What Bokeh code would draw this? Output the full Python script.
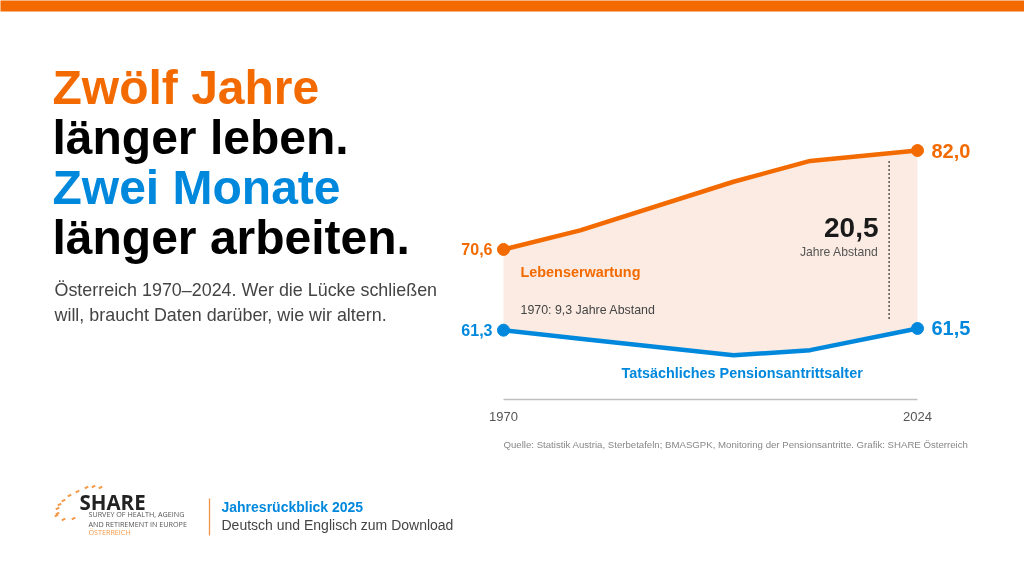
from bokeh.core.properties import value
from bokeh.embed import file_html
from bokeh.models import FixedTicker, Label, LinearAxis, Range1d
from bokeh.plotting import figure
from bokeh.resources import INLINE

years = [1970, 1980, 2000, 2010, 2024]
lebenserwartung = [70.6, 72.8, 78.4, 80.8, 82.0]
pensionsalter = [61.3, 60.3, 58.4, 59.0, 61.5]
end_years = [1970, 2024]
tick_years = [1970, 2024]
gap_year = 2020.3
gap_from = 62.6
gap_to = 81.0

ORANGE = "#F26A00"
BLUE = "#0088DD"
FILL = "#FBEBE3"
FONT = "Liberation Sans"

W, H = 1024, 576
# pixel scale of the chart on the slide
x_scale = 414 / 54
y_scale = 8.68
x0 = 1970 - 503 / x_scale
y_top = 82.0 + 150 / y_scale


def xd(px):
    return x0 + px / x_scale


def yd(py):
    return y_top - py / y_scale


p = figure(width=W, height=H, output_backend="svg", toolbar_location=None,
           x_range=Range1d(x0, xd(W)), y_range=Range1d(yd(H), y_top),
           x_axis_location=None, y_axis_location=None, min_border=0,
           outline_line_color=None, background_fill_color="white",
           styles={"position": "fixed", "left": "0px", "top": "0px"})
p.grid.visible = False

axis = LinearAxis(ticker=FixedTicker(ticks=tick_years), fixed_location=yd(399),
                  bounds=(1970, 2024), axis_line_color="#C0C0C0", axis_line_width=1.5,
                  major_tick_line_color=None, minor_tick_line_color=None,
                  major_label_text_font=FONT, major_label_text_font_size="13px",
                  major_label_text_color="#555555", major_label_standoff=6)
p.add_layout(axis, "below")

# top bar
p.quad(left=xd(-3), right=xd(W + 3), top=yd(-3), bottom=yd(11), color=ORANGE, line_color=None)

p.varea(x=years, y1=pensionsalter, y2=lebenserwartung, fill_color=FILL)
p.segment(x0=[gap_year], y0=[gap_from], x1=[gap_year], y1=[gap_to], line_color="#555555",
          line_width=1.5, line_dash="2 2")
p.line(years, lebenserwartung, line_color=ORANGE, line_width=4.5, line_join="round")
p.line(years, pensionsalter, line_color=BLUE, line_width=4.5, line_join="round")
p.scatter(end_years, [lebenserwartung[0], lebenserwartung[-1]], size=12, color=ORANGE)
p.scatter(end_years, [pensionsalter[0], pensionsalter[-1]], size=12, color=BLUE)


def end_label(x, y, txt, color, size, align, off):
    p.text([x], [y], text=[txt], text_color=color, text_font=value(FONT), text_font_size=size,
           text_font_style="bold", text_align=align, text_baseline="middle", x_offset=off)


end_label(1970, 70.6, "70,6", ORANGE, "16px", "right", -11)
end_label(1970, 61.3, "61,3", BLUE, "16px", "right", -11)
end_label(2024, 82.0, "82,0", ORANGE, "20px", "left", 14)
end_label(2024, 61.5, "61,5", BLUE, "20px", "left", 14)


def txt(px, py, s, size, color="#444444", bold=False, align="left", font=FONT):
    # Label sits about 0.4 em lower than asked, so lift it by that much
    p.add_layout(Label(x=px, y=H - py + 0.4 * size, x_units="screen", y_units="screen", text=s,
                       text_font=font, text_font_size=f"{size}px", text_color=color,
                       text_font_style="bold" if bold else "normal",
                       text_align=align, text_baseline="alphabetic"))


# headline
txt(52, 106, "Zwölf Jahre", 48, ORANGE, True)
txt(52, 156, "länger leben.", 48, "#000000", True)
txt(52, 206, "Zwei Monate", 48, BLUE, True)
txt(52, 256, "länger arbeiten.", 48, "#000000", True)
txt(54, 297, "Österreich 1970–2024. Wer die Lücke schließen", 17.9)
txt(54, 322, "will, braucht Daten darüber, wie wir altern.", 17.9)

# chart notes
txt(520, 277, "Lebenserwartung", 14.4, ORANGE, True)
txt(520, 314, "1970: 9,3 Jahre Abstand", 12.4)
txt(621, 378, "Tatsächliches Pensionsantrittsalter", 14.4, BLUE, True)
txt(878, 238, "20,5", 28, "#1A1A1A", True, "right")
txt(878, 256, "Jahre Abstand", 12.2, "#555555", False, "right")
txt(503, 448, "Quelle: Statistik Austria, Sterbetafeln; BMASGPK, Monitoring der Pensionsantritte. "
    "Grafik: SHARE Österreich", 9.65, "#888888")

# footer with logo
logo_px = [100, 93, 86, 77, 69, 63, 59, 57, 57, 56, 63, 73]
logo_py = [487, 486, 487, 491, 495, 500, 504, 508, 513, 515, 519, 518]
p.scatter([xd(v) for v in logo_px], [yd(v) for v in logo_py], marker="dash", size=4, angle=0.5,
          line_color="#F59A4A", line_width=2)
txt(79, 510, "SHARE", 20.5, "#222222", True, "left", "Open Sans")
txt(88, 516.5, "SURVEY OF HEALTH, AGEING", 7.2, "#555555", False, "left", "Open Sans")
txt(88, 526.5, "AND RETIREMENT IN EUROPE", 7.2, "#555555", False, "left", "Open Sans")
txt(88, 534.5, "ÖSTERREICH", 7.2, "#F59A4A", False, "left", "Open Sans")
p.segment(x0=[xd(209)], y0=[yd(498)], x1=[xd(209)], y1=[yd(535)], line_color="#F0944A", line_width=1.3)
txt(221, 512, "Jahresrückblick 2025", 14, BLUE, True)
txt(221, 530, "Deutsch und Englisch zum Download", 14)

open("out.html", "w").write(file_html(p, INLINE))
